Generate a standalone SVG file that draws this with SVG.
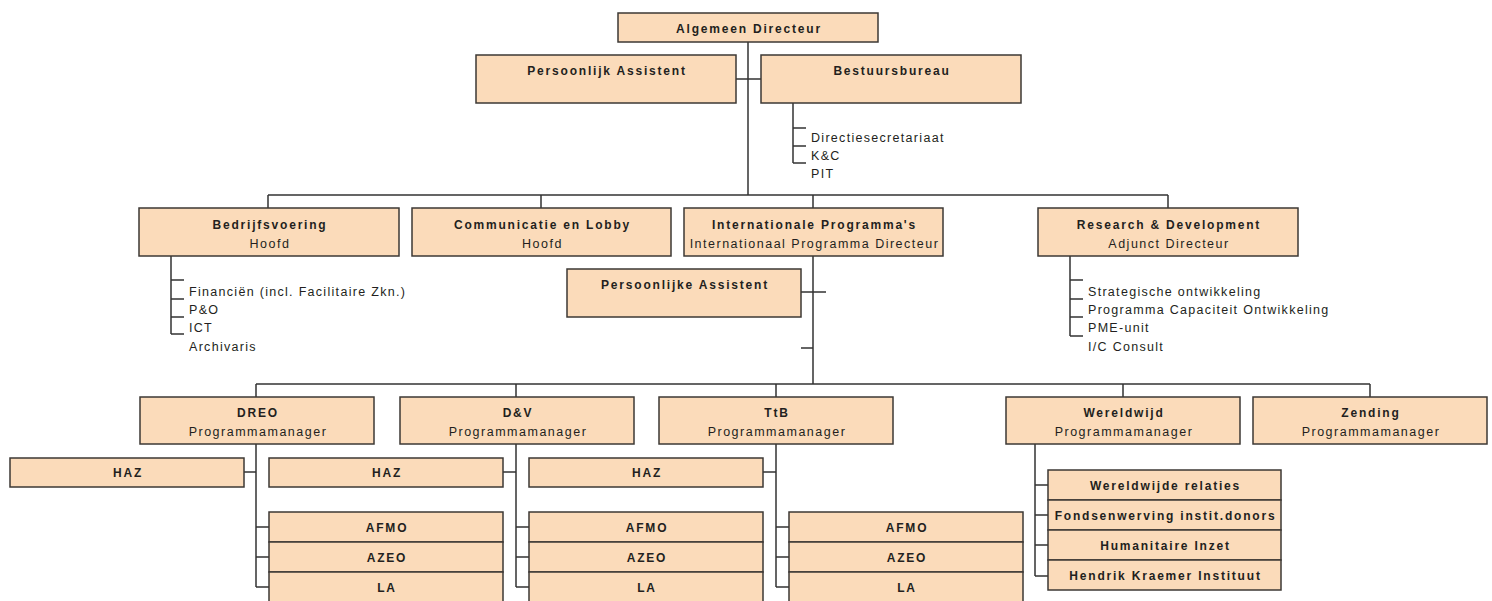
<svg xmlns="http://www.w3.org/2000/svg" width="1492" height="601" viewBox="0 0 1492 601">
<style>
.box{fill:#FBDBBA;stroke:#3d3935;stroke-width:1.5}
.c{stroke:#333;stroke-width:1.5;fill:none}
text{font-family:"Liberation Sans",Arial,sans-serif;fill:#231f20}
.b{font-weight:bold;font-size:12px;letter-spacing:1.8px;text-anchor:middle}
.r{font-size:12.5px;letter-spacing:1.5px;text-anchor:middle}
.l{font-size:12.5px;letter-spacing:1.3px;text-anchor:start}
</style>
<rect width="1492" height="601" fill="#fff"/>
<g id="connectors" class="c">
<path d="M748 42V195M736 79H761"/>
<path d="M793 103V163M793 128H806M793 146H806M793 163H806"/>
<path d="M268 195H1168M268 195V208M541 195V208M813 195V208M1168 195V208"/>
<path d="M171 256V334M171 280H184M171 299H184M171 317H184M171 334H184"/>
<path d="M1070 256V336M1070 280H1083M1070 299H1083M1070 317H1083M1070 336H1083"/>
<path d="M813 256V384M801 292H826M801 348H813"/>
<path d="M256 384H1370M256 384V397M516 384V397M776 384V397M1123 384V397M1370 384V397"/>
<path d="M256 444V587M244 472H256M256 527H269M256 557H269M256 587H269"/>
<path d="M516 444V587M503 472H516M516 527H529M516 557H529M516 587H529"/>
<path d="M776 444V587M763 472H776M776 527H789M776 557H789M776 587H789"/>
<path d="M1035 444V576M1035 485H1048M1035 515H1048M1035 545H1048M1035 576H1048"/>
</g>
<g id="algemeen-directeur"><rect class="box" x="618" y="13" width="260" height="29"/><text class="b" x="749" y="32.5">Algemeen Directeur</text></g>
<g id="persoonlijk-assistent"><rect class="box" x="476" y="55" width="260" height="48"/><text class="b" x="607" y="75">Persoonlijk Assistent</text></g>
<g id="bestuursbureau"><rect class="box" x="761" y="55" width="260" height="48"/><text class="b" x="892" y="75">Bestuursbureau</text>
<text class="l" x="811" y="142">Directiesecretariaat</text><text class="l" x="811" y="160">K&amp;C</text><text class="l" x="811" y="178">PIT</text></g>
<g id="bedrijfsvoering"><rect class="box" x="139" y="208" width="260" height="48"/><text class="b" x="270" y="228.5">Bedrijfsvoering</text><text class="r" x="270" y="247.5">Hoofd</text>
<text class="l" x="189" y="295.5">Financiën (incl. Facilitaire Zkn.)</text><text class="l" x="189" y="313.5">P&amp;O</text><text class="l" x="189" y="332">ICT</text><text class="l" x="189" y="350.5">Archivaris</text></g>
<g id="communicatie"><rect class="box" x="412" y="208" width="259" height="48"/><text class="b" x="542.5" y="228.5">Communicatie en Lobby</text><text class="r" x="542.5" y="247.5">Hoofd</text></g>
<g id="internationale-programmas"><rect class="box" x="684" y="208" width="259" height="48"/><text class="b" x="814.5" y="228.5">Internationale Programma's</text><text class="r" x="814.5" y="247.5">Internationaal Programma Directeur</text></g>
<g id="research-development"><rect class="box" x="1038" y="208" width="260" height="48"/><text class="b" x="1169" y="228.5">Research &amp; Development</text><text class="r" x="1169" y="247.5">Adjunct Directeur</text>
<text class="l" x="1088" y="295.5">Strategische ontwikkeling</text><text class="l" x="1088" y="313.5">Programma Capaciteit Ontwikkeling</text><text class="l" x="1088" y="332">PME-unit</text><text class="l" x="1088" y="350.5">I/C Consult</text></g>
<g id="persoonlijke-assistent"><rect class="box" x="567" y="269" width="234" height="48"/><text class="b" x="685" y="289">Persoonlijke Assistent</text></g>
<g id="dreo"><rect class="box" x="140" y="397" width="234" height="47"/><text class="b" x="258" y="416.5">DREO</text><text class="r" x="258" y="436">Programmamanager</text></g>
<g id="dv"><rect class="box" x="400" y="397" width="234" height="47"/><text class="b" x="518" y="416.5">D&amp;V</text><text class="r" x="518" y="436">Programmamanager</text></g>
<g id="ttb"><rect class="box" x="659" y="397" width="234" height="47"/><text class="b" x="777" y="416.5">TtB</text><text class="r" x="777" y="436">Programmamanager</text></g>
<g id="wereldwijd"><rect class="box" x="1006" y="397" width="234" height="47"/><text class="b" x="1124" y="416.5">Wereldwijd</text><text class="r" x="1124" y="436">Programmamanager</text></g>
<g id="zending"><rect class="box" x="1253" y="397" width="234" height="47"/><text class="b" x="1371" y="416.5">Zending</text><text class="r" x="1371" y="436">Programmamanager</text></g>
<g id="haz-dreo"><rect class="box" x="10" y="458" width="234" height="29"/><text class="b" x="128" y="477">HAZ</text></g>
<g id="haz-dv"><rect class="box" x="269" y="458" width="234" height="29"/><text class="b" x="387" y="477">HAZ</text></g>
<g id="haz-ttb"><rect class="box" x="529" y="458" width="234" height="29"/><text class="b" x="647" y="477">HAZ</text></g>
<g id="dreo-stack"><rect class="box" x="269" y="512" width="234" height="30"/><rect class="box" x="269" y="542" width="234" height="30"/><rect class="box" x="269" y="572" width="234" height="30"/>
<text class="b" x="387" y="531.5">AFMO</text><text class="b" x="387" y="561.5">AZEO</text><text class="b" x="387" y="591.5">LA</text></g>
<g id="dv-stack"><rect class="box" x="529" y="512" width="234" height="30"/><rect class="box" x="529" y="542" width="234" height="30"/><rect class="box" x="529" y="572" width="234" height="30"/>
<text class="b" x="647" y="531.5">AFMO</text><text class="b" x="647" y="561.5">AZEO</text><text class="b" x="647" y="591.5">LA</text></g>
<g id="ttb-stack"><rect class="box" x="789" y="512" width="234" height="30"/><rect class="box" x="789" y="542" width="234" height="30"/><rect class="box" x="789" y="572" width="234" height="30"/>
<text class="b" x="907" y="531.5">AFMO</text><text class="b" x="907" y="561.5">AZEO</text><text class="b" x="907" y="591.5">LA</text></g>
<g id="wereldwijd-stack"><rect class="box" x="1048" y="470" width="233" height="30"/><rect class="box" x="1048" y="500" width="233" height="30"/><rect class="box" x="1048" y="530" width="233" height="30"/><rect class="box" x="1048" y="560" width="233" height="30"/>
<text class="b" x="1165.5" y="490">Wereldwijde relaties</text><text class="b" x="1165.5" y="520">Fondsenwerving instit.donors</text><text class="b" x="1165.5" y="550">Humanitaire Inzet</text><text class="b" x="1165.5" y="580">Hendrik Kraemer Instituut</text></g>
</svg>
